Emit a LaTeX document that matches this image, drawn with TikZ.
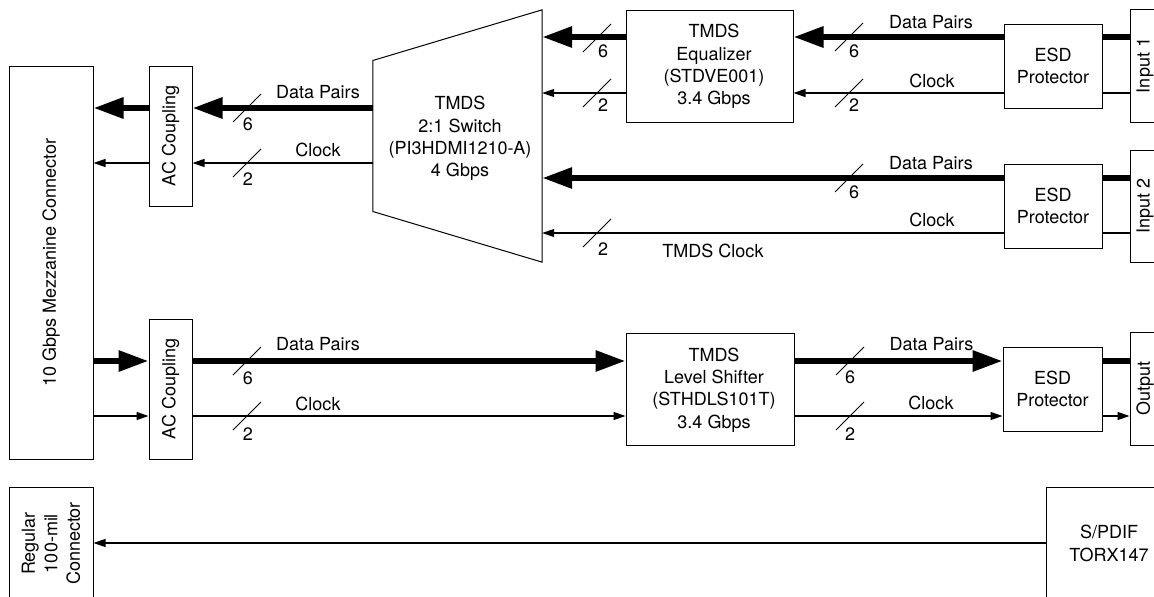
\documentclass[tikz,border=0pt]{standalone}
\usepackage{fontspec}
\setmainfont{TeX Gyre Heros}
\usetikzlibrary{arrows.meta,calc}
\begin{document}
\begin{tikzpicture}[x=1pt,y=-1pt,font=\fontsize{18}{22.4}\selectfont,
  box/.style={draw,line width=1pt,inner sep=0pt,align=center},
  txt/.style={inner sep=0pt,align=center},
  lbl/.style={anchor=base,inner sep=0pt},
  clk/.style={line width=1.2pt},
  bus/.style={line width=6pt},
  clka/.style={clk,-{Triangle[length=12pt,width=8pt]}},
  busa/.style={bus,-{Triangle[length=30pt,width=20pt]}},
  slashmark/.style={line width=1pt}]
\useasboundingbox (0,0) rectangle (1154,597);
\clip (0,0) rectangle (1154,597);

% rows
\coordinate (r1d) at (0,37);
\coordinate (r1c) at (0,93);
\coordinate (r2d) at (0,178);
\coordinate (r2c) at (0,233);
\coordinate (ad) at (0,108);
\coordinate (ac) at (0,163);
\coordinate (bd) at (0,361);
\coordinate (bc) at (0,416);
\coordinate (sp) at (0,543);

% boxes
\node[box,minimum width=84pt,minimum height=393pt] (mez) at (51,262.5) {};
\node[txt,rotate=90] (mezt) at (mez.center) {10 Gbps Mezzanine Connector};
\node[box,minimum width=43pt,minimum height=140pt] (act) at (170.5,136) {};
\node[txt,rotate=90] (actt) at (act.center) {AC Coupling};
\node[box,minimum width=43pt,minimum height=140pt] (acb) at (170.5,389) {};
\node[txt,rotate=90] (acbt) at (acb.center) {AC Coupling};

\node[txt,minimum width=169pt,minimum height=252pt] (sw) at (457.5,136) {};
\node[txt] (swt) at (460,138.5) {TMDS\\2:1 Switch\\(PI3HDMI1210-A)\\4 Gbps};
\draw[line width=1pt] ($(sw.west)+(0,-75.5)$) -- (sw.north east) -- (sw.south east) -- ($(sw.west)+(0,75.5)$) -- cycle;

\node[box,minimum width=167pt,minimum height=112pt] (eq) at (709.5,66) {};
\node[txt] (eqt) at (714,66.5) {TMDS\\Equalizer\\(STDVE001)\\3.4 Gbps};
\node[box,minimum width=168pt,minimum height=112pt] (ls) at (710,389) {};
\node[txt] (lst) at (714,390) {TMDS\\Level Shifter\\(STHDLS101T)\\3.4 Gbps};

\node[box,minimum width=98pt,minimum height=84pt] (esd1) at (1053,66) {ESD\\Protector};
\node[box,minimum width=98pt,minimum height=84pt] (esd2) at (1053,206) {ESD\\Protector};
\node[box,minimum width=99pt,minimum height=84pt] (esd3) at (1052.5,389) {ESD\\Protector};

\node[box,minimum width=30pt,minimum height=113pt] (in1) at (1145,65.5) {};
\node[txt,rotate=90] (in1t) at (in1.center) {Input 1};
\node[box,minimum width=30pt,minimum height=112pt] (in2) at (1145,206) {};
\node[txt,rotate=90] (in2t) at (in2.center) {Input 2};
\node[box,minimum width=30pt,minimum height=113pt] (out) at (1145,388.5) {};
\node[txt,rotate=90] (outt) at (out.center) {Output};

\node[box,minimum width=84pt,minimum height=113pt] (reg) at (51,543.5) {};
\node[txt,rotate=90] (regt) at (reg.center) {Regular\\100-mil\\Connector};
\node[box,minimum width=126pt,minimum height=113pt] (spd) at (1109,543.5) {S/PDIF\\TORX147};

% connectors top
\draw[busa] (act.west |- ad) -- (mez.east |- ad);
\draw[clka] (act.west |- ac) -- (mez.east |- ac);
\draw[busa] (sw.west |- ad) -- (act.east |- ad);
\draw[clka] (sw.west |- ac) -- (act.east |- ac);
\draw[busa] (eq.west |- r1d) -- (sw.east |- r1d);
\draw[clka] (eq.west |- r1c) -- (sw.east |- r1c);
\draw[busa] (esd1.west |- r1d) -- (eq.east |- r1d);
\draw[clka] (esd1.west |- r1c) -- (eq.east |- r1c);
\draw[bus] (in1.west |- r1d) -- (esd1.east |- r1d);
\draw[clk] (in1.west |- r1c) -- (esd1.east |- r1c);
\draw[busa] (esd2.west |- r2d) -- (sw.east |- r2d);
\draw[clka] (esd2.west |- r2c) -- (sw.east |- r2c);
\draw[bus] (in2.west |- r2d) -- (esd2.east |- r2d);
\draw[clk] (in2.west |- r2c) -- (esd2.east |- r2c);
% connectors bottom
\draw[busa] (mez.east |- bd) -- (acb.west |- bd);
\draw[clka] (mez.east |- bc) -- (acb.west |- bc);
\draw[busa] (acb.east |- bd) -- (ls.west |- bd);
\draw[clka] (acb.east |- bc) -- (ls.west |- bc);
\draw[busa] (ls.east |- bd) -- (esd3.west |- bd);
\draw[clka] (ls.east |- bc) -- (esd3.west |- bc);
\draw[bus] (esd3.east |- bd) -- (out.west |- bd);
\draw[clka] (esd3.east |- bc) -- (out.west |- bc);
\draw[clka] (spd.west |- sp) -- (reg.east |- sp);

% bus width marks
\foreach \x/\y/\dx/\by/\n [count=\i] in {
  247/108/248/130/6, 247/163/248/185/2,
  597/38/603/57.3/6, 597/93/603/111/2, 597/233/603/255/2,
  849/37/854/57.3/6, 849/93/854/111/2, 849/178/854/198.3/6,
  247/361/248/384/6, 247/416/248/440/2,
  850/361/850/383/6, 850/416/850/440/2} {
  \draw[slashmark] (\x-14,\y+14) -- (\x+14,\y-14);
  \node[lbl] (bw\i) at (\dx,\by) {\n};
}

% line labels
\node[lbl] (l1) at (318,98.3) {Data Pairs};
\node[lbl] (l2) at (318,156) {Clock};
\node[lbl] (l3) at (931,28.3) {Data Pairs};
\node[lbl] (l4) at (932,87.3) {Clock};
\node[lbl] (l5) at (931,169.3) {Data Pairs};
\node[lbl] (l6) at (932,226.7) {Clock};
\node[lbl] (l7) at (713,257) {TMDS Clock};
\node[lbl] (l8) at (318,350.7) {Data Pairs};
\node[lbl] (l9) at (318,410.7) {Clock};
\node[lbl] (l10) at (931.5,350.7) {Data Pairs};
\node[lbl] (l11) at (931,409) {Clock};
\end{tikzpicture}
\end{document}
